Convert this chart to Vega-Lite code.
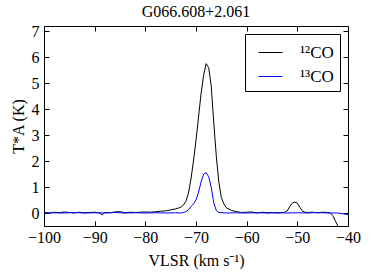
{
  "$schema": "https://vega.github.io/schema/vega-lite/v6.json",
  "width": 304,
  "height": 200,
  "autosize": {"type": "none"},
  "padding": {"left": 44, "top": 26, "right": 26, "bottom": 54},
  "title": {"text": "G066.608+2.061", "font": "Liberation Serif", "fontSize": 16, "fontWeight": "normal", "color": "black", "offset": 3},
  "config": {
    "font": "Liberation Serif",
    "view": {"stroke": "black", "strokeWidth": 1},
    "axis": {
      "grid": false,
      "domain": false,
      "tickColor": "black",
      "tickSize": -5,
      "labelFlush": false,
      "labelColor": "black",
      "titleFontWeight": "normal",
      "titleColor": "black"
    },
    "legend": {
      "orient": "top-right",
      "offset": 8,
      "strokeColor": "black",
      "fillColor": "white",
      "padding": 6,
      "symbolType": "stroke",
      "symbolSize": 576,
      "symbolStrokeWidth": 1,
      "symbolOffset": 7,
      "labelFont": "Liberation Serif",
      "labelFontSize": 17,
      "labelColor": "black",
      "labelOffset": 17,
      "rowPadding": 3
    }
  },
  "data": {
    "values": [
      {"v": -100, "t": 0.02, "s": "¹²CO"}, {"v": -99, "t": 0.0, "s": "¹²CO"}, {"v": -98, "t": 0.03, "s": "¹²CO"}, {"v": -97, "t": 0.01, "s": "¹²CO"}, {"v": -96, "t": 0.04, "s": "¹²CO"}, {"v": -95, "t": 0.02, "s": "¹²CO"}, {"v": -94, "t": 0.0, "s": "¹²CO"}, {"v": -93, "t": 0.03, "s": "¹²CO"}, {"v": -92, "t": 0.01, "s": "¹²CO"}, {"v": -91, "t": 0.02, "s": "¹²CO"}, {"v": -90, "t": 0.03, "s": "¹²CO"}, {"v": -89, "t": 0.0, "s": "¹²CO"}, {"v": -88.5, "t": -0.07, "s": "¹²CO"}, {"v": -88, "t": 0.02, "s": "¹²CO"}, {"v": -87, "t": 0.01, "s": "¹²CO"}, {"v": -86, "t": 0.04, "s": "¹²CO"}, {"v": -85, "t": 0.05, "s": "¹²CO"}, {"v": -84, "t": 0.01, "s": "¹²CO"}, {"v": -83, "t": 0.03, "s": "¹²CO"}, {"v": -82, "t": 0.02, "s": "¹²CO"}, {"v": -81, "t": 0.03, "s": "¹²CO"}, {"v": -80, "t": 0.04, "s": "¹²CO"}, {"v": -79, "t": 0.03, "s": "¹²CO"}, {"v": -78, "t": 0.05, "s": "¹²CO"}, {"v": -77, "t": 0.07, "s": "¹²CO"}, {"v": -76, "t": 0.08, "s": "¹²CO"}, {"v": -75, "t": 0.12, "s": "¹²CO"}, {"v": -74, "t": 0.16, "s": "¹²CO"}, {"v": -73, "t": 0.22, "s": "¹²CO"}, {"v": -72.5, "t": 0.3, "s": "¹²CO"}, {"v": -72, "t": 0.45, "s": "¹²CO"}, {"v": -71.5, "t": 0.75, "s": "¹²CO"}, {"v": -71, "t": 1.3, "s": "¹²CO"}, {"v": -70.5, "t": 2.0, "s": "¹²CO"}, {"v": -70, "t": 2.8, "s": "¹²CO"}, {"v": -69.5, "t": 3.7, "s": "¹²CO"}, {"v": -69, "t": 4.6, "s": "¹²CO"}, {"v": -68.5, "t": 5.3, "s": "¹²CO"}, {"v": -68, "t": 5.75, "s": "¹²CO"}, {"v": -67.5, "t": 5.6, "s": "¹²CO"}, {"v": -67, "t": 4.9, "s": "¹²CO"}, {"v": -66.5, "t": 3.5, "s": "¹²CO"}, {"v": -66, "t": 2.2, "s": "¹²CO"}, {"v": -65.5, "t": 1.2, "s": "¹²CO"}, {"v": -65, "t": 0.6, "s": "¹²CO"}, {"v": -64.5, "t": 0.35, "s": "¹²CO"}, {"v": -64, "t": 0.2, "s": "¹²CO"}, {"v": -63.5, "t": 0.15, "s": "¹²CO"}, {"v": -63, "t": 0.1, "s": "¹²CO"}, {"v": -62, "t": 0.05, "s": "¹²CO"}, {"v": -61, "t": 0.02, "s": "¹²CO"}, {"v": -60, "t": 0.03, "s": "¹²CO"}, {"v": -59, "t": 0.04, "s": "¹²CO"}, {"v": -58, "t": 0.0, "s": "¹²CO"}, {"v": -57, "t": 0.03, "s": "¹²CO"}, {"v": -56, "t": 0.01, "s": "¹²CO"}, {"v": -55, "t": 0.02, "s": "¹²CO"}, {"v": -54, "t": 0.0, "s": "¹²CO"}, {"v": -53, "t": 0.02, "s": "¹²CO"}, {"v": -52.5, "t": 0.03, "s": "¹²CO"}, {"v": -52, "t": 0.08, "s": "¹²CO"}, {"v": -51.5, "t": 0.25, "s": "¹²CO"}, {"v": -51, "t": 0.38, "s": "¹²CO"}, {"v": -50.5, "t": 0.42, "s": "¹²CO"}, {"v": -50, "t": 0.38, "s": "¹²CO"}, {"v": -49.5, "t": 0.22, "s": "¹²CO"}, {"v": -49, "t": 0.08, "s": "¹²CO"}, {"v": -48.5, "t": 0.03, "s": "¹²CO"}, {"v": -48, "t": 0.02, "s": "¹²CO"}, {"v": -47, "t": 0.03, "s": "¹²CO"}, {"v": -46, "t": 0.0, "s": "¹²CO"}, {"v": -45, "t": 0.03, "s": "¹²CO"}, {"v": -44, "t": 0.02, "s": "¹²CO"}, {"v": -43.5, "t": 0.0, "s": "¹²CO"}, {"v": -43, "t": -0.1, "s": "¹²CO"}, {"v": -42.5, "t": -0.3, "s": "¹²CO"}, {"v": -42, "t": -0.5, "s": "¹²CO"}, {"v": -41.5, "t": -0.75, "s": "¹²CO"},
      {"v": -100, "t": -0.01, "s": "¹³CO"}, {"v": -98, "t": 0.01, "s": "¹³CO"}, {"v": -96, "t": 0.0, "s": "¹³CO"}, {"v": -94, "t": 0.02, "s": "¹³CO"}, {"v": -92, "t": 0.0, "s": "¹³CO"}, {"v": -90, "t": 0.01, "s": "¹³CO"}, {"v": -88, "t": 0.0, "s": "¹³CO"}, {"v": -86, "t": 0.02, "s": "¹³CO"}, {"v": -84, "t": 0.0, "s": "¹³CO"}, {"v": -82, "t": 0.01, "s": "¹³CO"}, {"v": -80, "t": 0.0, "s": "¹³CO"}, {"v": -78, "t": 0.01, "s": "¹³CO"}, {"v": -76, "t": 0.0, "s": "¹³CO"}, {"v": -74, "t": 0.01, "s": "¹³CO"}, {"v": -73, "t": 0.0, "s": "¹³CO"}, {"v": -72.5, "t": 0.02, "s": "¹³CO"}, {"v": -72, "t": 0.05, "s": "¹³CO"}, {"v": -71.5, "t": 0.12, "s": "¹³CO"}, {"v": -71, "t": 0.25, "s": "¹³CO"}, {"v": -70.5, "t": 0.35, "s": "¹³CO"}, {"v": -70, "t": 0.5, "s": "¹³CO"}, {"v": -69.5, "t": 0.8, "s": "¹³CO"}, {"v": -69, "t": 1.2, "s": "¹³CO"}, {"v": -68.5, "t": 1.5, "s": "¹³CO"}, {"v": -68, "t": 1.55, "s": "¹³CO"}, {"v": -67.5, "t": 1.4, "s": "¹³CO"}, {"v": -67, "t": 1.0, "s": "¹³CO"}, {"v": -66.5, "t": 0.4, "s": "¹³CO"}, {"v": -66, "t": 0.1, "s": "¹³CO"}, {"v": -65.5, "t": 0.02, "s": "¹³CO"}, {"v": -64, "t": 0.0, "s": "¹³CO"}, {"v": -62, "t": 0.01, "s": "¹³CO"}, {"v": -60, "t": 0.0, "s": "¹³CO"}, {"v": -58, "t": 0.01, "s": "¹³CO"}, {"v": -56, "t": 0.0, "s": "¹³CO"}, {"v": -54, "t": 0.01, "s": "¹³CO"}, {"v": -52, "t": 0.0, "s": "¹³CO"}, {"v": -50, "t": 0.01, "s": "¹³CO"}, {"v": -48, "t": 0.0, "s": "¹³CO"}, {"v": -46, "t": 0.02, "s": "¹³CO"}, {"v": -44, "t": 0.0, "s": "¹³CO"}, {"v": -42, "t": 0.0, "s": "¹³CO"}, {"v": -41, "t": -0.03, "s": "¹³CO"}, {"v": -40, "t": -0.06, "s": "¹³CO"}
    ]
  },
  "layer": [
    {
      "mark": {"type": "line", "strokeWidth": 1, "clip": true},
      "encoding": {
        "x": {"field": "v", "type": "quantitative", "scale": {"domain": [-100, -40], "nice": false}, "axis": {"orient": "bottom", "values": [-100, -90, -80, -70, -60, -50, -40], "title": "VLSR (km s⁻¹)", "labelFont": "Liberation Serif", "labelFontSize": 16, "titleFont": "Liberation Serif", "titleFontSize": 16, "labelPadding": 8, "titlePadding": 7}},
        "y": {"field": "t", "type": "quantitative", "scale": {"domain": [-0.5, 7.2], "nice": false, "zero": false}, "axis": {"orient": "left", "values": [0, 1, 2, 3, 4, 5, 6, 7], "title": "T*A (K)", "labelFont": "Liberation Serif", "labelFontSize": 16, "titleFont": "Liberation Serif", "titleFontSize": 16, "labelPadding": 10, "titlePadding": 5}},
        "color": {"field": "s", "type": "nominal", "scale": {"domain": ["¹²CO", "¹³CO"], "range": ["black", "blue"]}, "legend": {"title": null}}
      }
    },
    {
      "mark": {"type": "line", "strokeWidth": 1, "opacity": 0, "clip": true},
      "encoding": {
        "x": {"field": "v", "type": "quantitative", "scale": {"domain": [-100, -40], "nice": false}, "axis": {"orient": "top", "values": [-100, -90, -80, -70, -60, -50, -40], "labels": false, "title": null}},
        "y": {"field": "t", "type": "quantitative", "scale": {"domain": [-0.5, 7.2], "nice": false, "zero": false}, "axis": {"orient": "right", "values": [0, 1, 2, 3, 4, 5, 6, 7], "labels": false, "title": null}},
        "detail": {"field": "s", "type": "nominal"}
      }
    }
  ],
  "resolve": {"axis": {"x": "independent", "y": "independent"}}
}
